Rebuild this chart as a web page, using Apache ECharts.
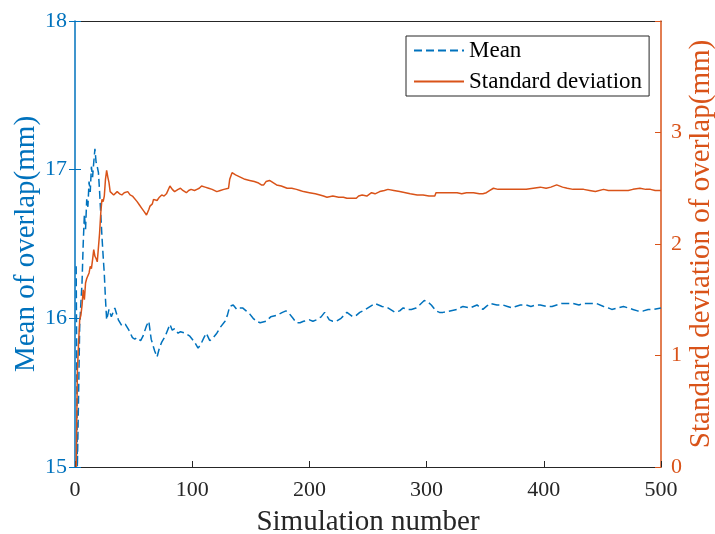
<!DOCTYPE html>
<html>
<head>
<meta charset="utf-8">
<script src="https://cdn.jsdelivr.net/npm/echarts@6/dist/echarts.min.js"></script>
<style>
  html, body { margin: 0; padding: 0; background: #fff; }
  #chart { width: 715px; height: 534px; }
</style>
</head>
<body>
<div id="chart"></div>
<script>
const meanX = [1, 2, 3, 4, 5, 6, 7, 8, 9, 10, 11, 12, 13, 14, 15, 16, 17, 18, 19, 20,
  21, 22, 23, 24, 25, 26, 27, 29, 31, 34, 37, 40, 43, 46, 49, 51, 53, 56, 58, 61,
  63, 65, 68, 70, 72, 74, 77, 81, 83, 85, 88, 90, 94, 98, 102, 105, 107, 110, 112, 115,
  118, 121, 124, 128, 130, 132, 135, 138, 140, 143, 146, 149, 152, 155, 158, 163, 167, 172, 177, 180,
  183, 186, 189, 192, 195, 200, 203, 206, 210, 213, 217, 220, 223, 227, 232, 237, 240, 243, 248, 252,
  256, 259, 262, 267, 273, 277, 280, 284, 287, 291, 294, 298, 301, 304, 308, 311, 314, 320, 326, 331,
  337, 343, 348, 351, 354, 360, 365, 369, 373, 376, 380, 385, 389, 393, 397, 402, 407, 411, 415, 420,
  425, 430, 434, 440, 445, 451, 455, 458, 463, 468, 472, 476, 480, 485, 489, 494, 500]
const meanY = [16.35, 15.0, 15.45, 15.95, 16.1, 16.24, 16.5, 16.7, 16.6, 16.8, 16.75, 16.92, 16.85, 17.02, 16.95, 17.05, 17.14, 17.05, 17.02, 16.98,
  16.85, 16.7, 16.55, 16.42, 16.3, 16.13, 15.99, 16.06, 16.01, 16.07, 15.99, 15.95, 15.96, 15.92, 15.87, 15.86, 15.87, 15.85, 15.88, 15.95,
  15.98, 15.86, 15.78, 15.74, 15.8, 15.84, 15.88, 15.96, 15.92, 15.93, 15.9, 15.91, 15.9, 15.88, 15.84, 15.8, 15.82, 15.87, 15.9, 15.85,
  15.87, 15.9, 15.94, 15.98, 16.02, 16.08, 16.09, 16.06, 16.07, 16.07, 16.05, 16.03, 16.0, 15.98, 15.97, 15.98, 16.01, 16.02, 16.04, 16.05,
  16.03, 16.0, 15.97, 15.97, 15.98, 15.99, 15.98, 15.99, 16.01, 16.04, 15.99, 15.98, 15.98, 16.0, 16.04, 16.01, 16.02, 16.04, 16.06, 16.08,
  16.1, 16.09, 16.08, 16.07, 16.04, 16.05, 16.07, 16.06, 16.06, 16.07, 16.09, 16.12, 16.11, 16.09, 16.05, 16.04, 16.04, 16.05, 16.06, 16.08,
  16.07, 16.09, 16.06, 16.08, 16.1, 16.09, 16.09, 16.08, 16.07, 16.08, 16.09, 16.09, 16.08, 16.09, 16.09, 16.08, 16.08, 16.09, 16.1, 16.1,
  16.1, 16.09, 16.1, 16.1, 16.1, 16.08, 16.07, 16.06, 16.07, 16.08, 16.07, 16.06, 16.05, 16.05, 16.06, 16.06, 16.07]

const stdX = [1, 2, 3, 4, 5, 6, 7, 8, 9, 10, 11, 12, 13, 14, 15, 16, 17, 18, 19, 20,
  21, 22, 23, 24, 25, 26, 27, 28, 29, 30, 33, 36, 38, 40, 42, 45, 47, 49, 53, 55,
  57, 59, 61, 63, 64, 66, 67, 70, 72, 74, 76, 78, 81, 83, 85, 88, 90, 92, 95, 97,
  99, 102, 104, 106, 108, 111, 114, 117, 121, 124, 127, 131, 132, 134, 137, 141, 145, 149, 153, 156,
  159, 161, 163, 166, 169, 172, 176, 181, 185, 189, 192, 195, 200, 205, 209, 212, 215, 220, 225, 229,
  232, 235, 240, 242, 245, 249, 253, 256, 260, 264, 267, 272, 277, 282, 286, 292, 297, 302, 307, 308,
  313, 317, 322, 326, 330, 334, 340, 345, 348, 351, 354, 357, 361, 365, 370, 374, 380, 385, 391, 397,
  402, 406, 411, 416, 420, 425, 430, 434, 439, 444, 451, 455, 459, 464, 468, 472, 476, 482, 487, 491,
  495, 500]
const stdY = [0, 0.85, 1.1, 1.32, 1.36, 1.45, 1.59, 1.5, 1.65, 1.69, 1.7, 1.74, 1.8, 1.78, 1.86, 1.95, 1.89, 1.87, 1.84, 1.83,
  2.1, 2.28, 2.4, 2.38, 2.43, 2.58, 2.66, 2.6, 2.55, 2.47, 2.44, 2.47, 2.45, 2.44, 2.46, 2.47, 2.44, 2.43, 2.38, 2.35,
  2.32, 2.29, 2.26, 2.31, 2.34, 2.36, 2.4, 2.39, 2.42, 2.44, 2.43, 2.45, 2.52, 2.49, 2.47, 2.49, 2.5, 2.48, 2.46, 2.48,
  2.49, 2.48, 2.49, 2.5, 2.52, 2.51, 2.5, 2.49, 2.47, 2.48, 2.49, 2.5, 2.58, 2.64, 2.62, 2.6, 2.58, 2.57, 2.56, 2.55,
  2.53, 2.53, 2.56, 2.57, 2.55, 2.53, 2.52, 2.5, 2.5, 2.49, 2.48, 2.47, 2.46, 2.45, 2.44, 2.43, 2.42, 2.43, 2.42, 2.42,
  2.41, 2.41, 2.41, 2.43, 2.44, 2.43, 2.46, 2.45, 2.47, 2.48, 2.49, 2.48, 2.47, 2.46, 2.45, 2.44, 2.44, 2.43, 2.43, 2.46,
  2.46, 2.46, 2.46, 2.46, 2.45, 2.46, 2.46, 2.45, 2.45, 2.46, 2.48, 2.5, 2.49, 2.49, 2.49, 2.49, 2.49, 2.49, 2.5, 2.51,
  2.5, 2.51, 2.53, 2.51, 2.5, 2.49, 2.49, 2.49, 2.48, 2.47, 2.49, 2.48, 2.48, 2.48, 2.48, 2.48, 2.49, 2.5, 2.49, 2.49,
  2.48, 2.48]

const xTicks = { min: 0, max: 500, interval: 100 }
const meanTicks = { min: 15, max: 18, interval: 1 }
const stdTicks = { min: 0, max: 4, interval: 1 }

const blue = '#0072BD'
const orange = '#D95319'
const dark = '#262626'
const serif = '"Liberation Serif", "Times New Roman", serif'

const zip = (xs, ys) => xs.map((x, i) => [x, ys[i]])

const myChart = echarts.init(document.getElementById('chart'))
const option = {
  animation: false,
  grid: {
    left: 75,
    right: 54,
    top: 21,
    bottom: 67,
    outerBoundsMode: 'none'
  },
  legend: {
    orient: 'vertical',
    left: 406,
    top: 36,
    padding: [3, 7, 3, 7],
    itemGap: 8,
    itemWidth: 50,
    itemHeight: 14,
    borderColor: dark,
    borderWidth: 1,
    backgroundColor: '#fff',
    // hide the marker dot, keep only the line sample
    itemStyle: { color: 'transparent', borderColor: 'transparent', borderWidth: 0 },
    textStyle: { fontFamily: serif, fontSize: 23, color: '#000' },
    data: ['Mean', 'Standard deviation']
  },
  xAxis: [{
    type: 'value',
    ...xTicks,
    name: 'Simulation number',
    nameLocation: 'middle',
    nameGap: 41,
    nameMoveOverlap: false,
    nameTextStyle: { fontFamily: serif, fontSize: 29, color: dark },
    axisLine: { show: true, lineStyle: { color: dark, width: 1 } },
    axisTick: { show: true, inside: true, length: 6, lineStyle: { color: dark } },
    axisLabel: { fontFamily: serif, fontSize: 22, color: dark, margin: 12 },
    splitLine: { show: false }
  }, {
    // top border of the box
    type: 'value',
    position: 'top',
    ...xTicks,
    axisLine: { show: true, lineStyle: { color: dark, width: 1 } },
    axisTick: { show: false },
    axisLabel: { show: false },
    splitLine: { show: false }
  }],
  yAxis: [{
    type: 'value',
    position: 'left',
    ...meanTicks,
    name: 'Mean of overlap(mm)',
    nameLocation: 'middle',
    nameRotate: 90,
    nameGap: 34,
    nameMoveOverlap: false,
    nameTextStyle: { fontFamily: serif, fontSize: 29, color: blue },
    axisLine: { show: true, onZero: false, lineStyle: { color: blue, width: 1.5 } },
    axisTick: { show: true, inside: true, length: 6, lineStyle: { color: blue } },
    axisLabel: { fontFamily: serif, fontSize: 22, color: blue, margin: 8 },
    splitLine: { show: false }
  }, {
    type: 'value',
    position: 'right',
    ...stdTicks,
    name: 'Standard deviation of overlap(mm)',
    nameLocation: 'middle',
    nameRotate: 90,
    nameGap: 26,
    nameMoveOverlap: false,
    nameTextStyle: { fontFamily: serif, fontSize: 29, color: orange },
    axisLine: { show: true, onZero: false, lineStyle: { color: orange, width: 1.5 } },
    axisTick: { show: true, inside: true, length: 6, lineStyle: { color: orange } },
    axisLabel: {
      fontFamily: serif,
      fontSize: 22,
      color: orange,
      margin: 10,
      formatter: v => (v === stdTicks.max ? '' : v)
    },
    splitLine: { show: false }
  }, {
    // left-axis ticks mirrored on the right side
    type: 'value',
    position: 'right',
    ...meanTicks,
    axisLine: { show: false },
    axisTick: { show: true, inside: true, length: 6, lineStyle: { color: blue } },
    axisLabel: { show: false },
    splitLine: { show: false }
  }],
  series: [{
    name: 'Mean',
    type: 'line',
    yAxisIndex: 0,
    symbol: 'none',
    data: zip(meanX, meanY),
    lineStyle: { color: blue, width: 1.5, type: [8, 4] },
    itemStyle: { color: blue }
  }, {
    name: 'Standard deviation',
    type: 'line',
    yAxisIndex: 1,
    symbol: 'none',
    data: zip(stdX, stdY),
    lineStyle: { color: orange, width: 1.5 },
    itemStyle: { color: orange }
  }]
}
myChart.setOption(option)
</script>
</body>
</html>
